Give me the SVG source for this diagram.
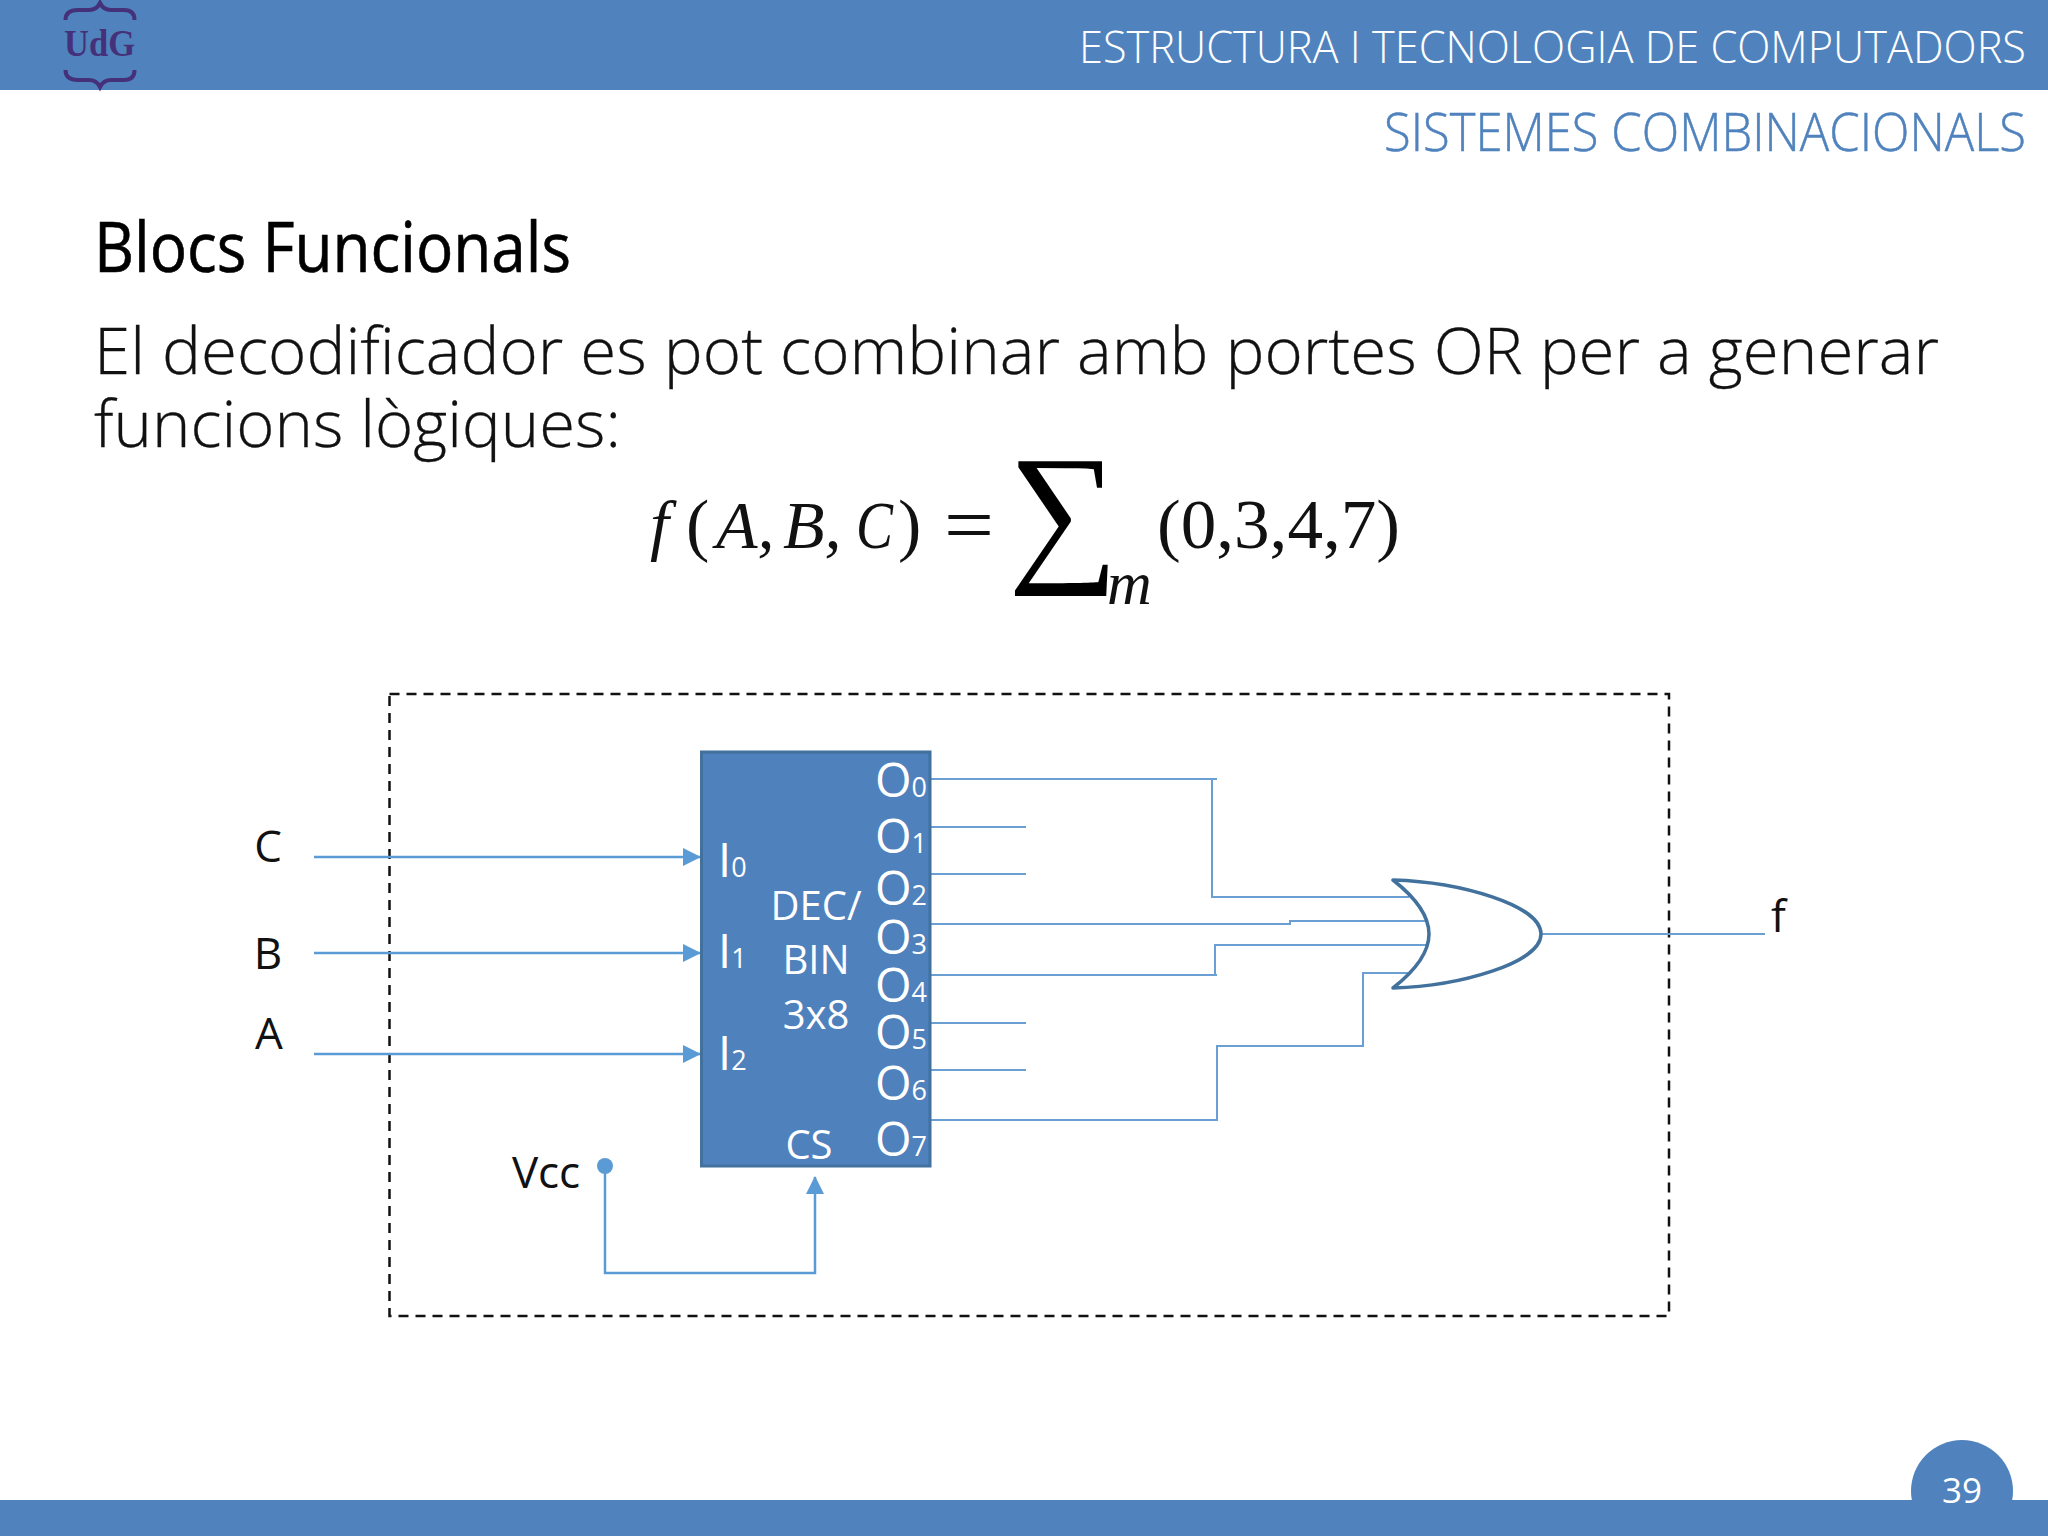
<svg xmlns="http://www.w3.org/2000/svg" width="2048" height="1536" viewBox="0 0 2048 1536">
<style>
text{font-family:"Open Sans","Noto Sans",sans-serif}
.lt{font-weight:300}
.blk{fill:#111;font-size:44px}
.wh{fill:#fff;font-size:47px}
.sub{font-size:27px}
.dec{fill:#fff;font-size:40px;text-anchor:middle}
.m{font-family:"Liberation Serif",serif;fill:#111;font-size:70px}
.mi{font-family:"Liberation Serif",serif;font-style:italic;fill:#111;font-size:68px}
.w{fill:none;stroke:#6a9fd4;stroke-width:2}
.in{fill:none;stroke:#5b9bd5;stroke-width:2.5}
</style>
<defs>
<marker id="arr" markerUnits="userSpaceOnUse" markerWidth="18" markerHeight="18" refX="17" refY="9" orient="auto"><path d="M0 0L18 9L0 18Z" fill="#5b9bd5"/></marker>
</defs>
<rect width="2048" height="1536" fill="#fff"/>
<g id="header">
<rect width="2048" height="90" fill="#5083bd"/>
<text class="lt" x="1079" y="63" font-size="44" fill="#fff" textLength="947" lengthAdjust="spacingAndGlyphs">ESTRUCTURA I TECNOLOGIA DE COMPUTADORS</text>
<text class="lt" x="1384" y="151" font-size="53" fill="#5083bd" stroke="#5083bd" stroke-width="0.500" textLength="642" lengthAdjust="spacingAndGlyphs">SISTEMES COMBINACIONALS</text>
</g>
<g id="logo">
<path d="M65.500 20C65.500 13 70 10 78 10L89 10C95 10 98 7 100 3C102 7 105 10 111 10L124 10C131 10 134.500 13 134.500 20" fill="none" stroke="#45307a" stroke-width="4"/>
<path d="M65.500 70C65.500 77 70 80 78 80L89 80C95 80 98 83 100 87C102 83 105 80 111 80L124 80C131 80 134.500 77 134.500 70" fill="none" stroke="#45307a" stroke-width="4"/>
<text x="64" y="56" font-size="37" font-weight="700" fill="#45307a" textLength="71" lengthAdjust="spacingAndGlyphs" style="font-family:'Liberation Serif',serif">UdG</text>
</g>
<g id="title">
<text x="94" y="272" font-size="69" fill="#000" stroke="#000" stroke-width="0.600" textLength="477" lengthAdjust="spacingAndGlyphs">Blocs Funcionals</text>
<text class="lt" x="94" y="374" font-size="65" fill="#111" stroke="#111" stroke-width="0.300" textLength="1845" lengthAdjust="spacingAndGlyphs">El decodificador es pot combinar amb portes OR per a generar</text>
<text class="lt" x="94" y="447" font-size="65" fill="#111" stroke="#111" stroke-width="0.300" textLength="527" lengthAdjust="spacingAndGlyphs">funcions lògiques:</text>
</g>
<g id="formula">
<text class="mi" x="650" y="548">f</text>
<text class="m" x="686" y="548">(</text>
<text class="mi" x="716" y="548">A,</text>
<text class="mi" x="783" y="548">B,</text>
<text class="mi" x="856" y="548" textLength="37" lengthAdjust="spacingAndGlyphs">C</text>
<text class="m" x="898" y="548">)</text>
<text class="m" x="944" y="552" textLength="50" lengthAdjust="spacingAndGlyphs" style="font-size:80px">=</text>
<text x="1008" y="563" font-size="155" fill="#000" style="font-family:'Liberation Serif',serif">∑</text>
<text class="mi" x="1107" y="604" style="font-size:62px">m</text>
<text class="m" x="1157" y="548" textLength="243" lengthAdjust="spacingAndGlyphs">(0,3,4,7)</text>
</g>
<rect id="frame" x="389.500" y="694" width="1279.500" height="622" fill="none" stroke="#111" stroke-width="2.500" stroke-dasharray="10 7"/>
<g id="connectors">
<path class="in" d="M314 857H700" marker-end="url(#arr)"/>
<path class="in" d="M314 953H700" marker-end="url(#arr)"/>
<path class="in" d="M314 1054H700" marker-end="url(#arr)"/>
<path class="in" d="M605 1166V1273H815V1177" marker-end="url(#arr)"/>
<path class="w" d="M931 779H1217M1212 779V897H1409"/>
<path class="w" d="M931 827H1026M931 874H1026M931 1023H1026M931 1070H1026"/>
<path class="w" d="M931 924H1290V921H1427"/>
<path class="w" d="M931 975H1217M1215 975V945H1427"/>
<path class="w" d="M931 1120H1217V1046H1363V973H1409"/>
<path class="w" d="M1541 934H1765"/>
</g>
<g id="dot"><circle cx="605" cy="1166" r="8" fill="#5b9bd5"/></g>
<g id="labels">
<text class="blk" x="268" y="862" text-anchor="middle">C</text>
<text class="blk" x="268" y="969" text-anchor="middle">B</text>
<text class="blk" x="269" y="1049" text-anchor="middle">A</text>
<text class="blk" x="512" y="1188" textLength="68">Vcc</text>
<text class="blk" x="1771" y="932">f</text>
</g>
<g id="decoder">
<rect x="701.500" y="752" width="228.500" height="414" fill="#4f81bd" stroke="#41719c" stroke-width="3"/>
<g class="wh">
<text class="wh" x="718" y="877">I<tspan class="sub">0</tspan></text>
<text class="wh" x="718" y="968">I<tspan class="sub">1</tspan></text>
<text class="wh" x="718" y="1070">I<tspan class="sub">2</tspan></text>
<text class="wh" x="875" y="797">O<tspan class="sub">0</tspan></text>
<text class="wh" x="875" y="853">O<tspan class="sub">1</tspan></text>
<text class="wh" x="875" y="905">O<tspan class="sub">2</tspan></text>
<text class="wh" x="875" y="954">O<tspan class="sub">3</tspan></text>
<text class="wh" x="875" y="1002">O<tspan class="sub">4</tspan></text>
<text class="wh" x="875" y="1049">O<tspan class="sub">5</tspan></text>
<text class="wh" x="875" y="1100">O<tspan class="sub">6</tspan></text>
<text class="wh" x="875" y="1156">O<tspan class="sub">7</tspan></text>
</g>
<text class="dec" x="816" y="920">DEC/</text>
<text class="dec" x="816" y="974">BIN</text>
<text class="dec" x="816" y="1029">3x8</text>
<text class="dec" x="809" y="1159">CS</text>
</g>
<g id="or-gate">
<path d="M1393 880C1460 882 1541 905 1541 934C1541 963 1460 986 1393 988C1416 970 1429 952 1429 934C1429 916 1416 898 1393 880Z" fill="none" stroke="#41719c" stroke-width="3.500" stroke-linejoin="round"/>
</g>
<g id="footer">
<circle cx="1962" cy="1491" r="51" fill="#5083bd"/>
<rect y="1500" width="2048" height="36" fill="#5083bd"/>
<text x="1962" y="1503" font-size="35" fill="#fff" text-anchor="middle">39</text>
</g>
</svg>
